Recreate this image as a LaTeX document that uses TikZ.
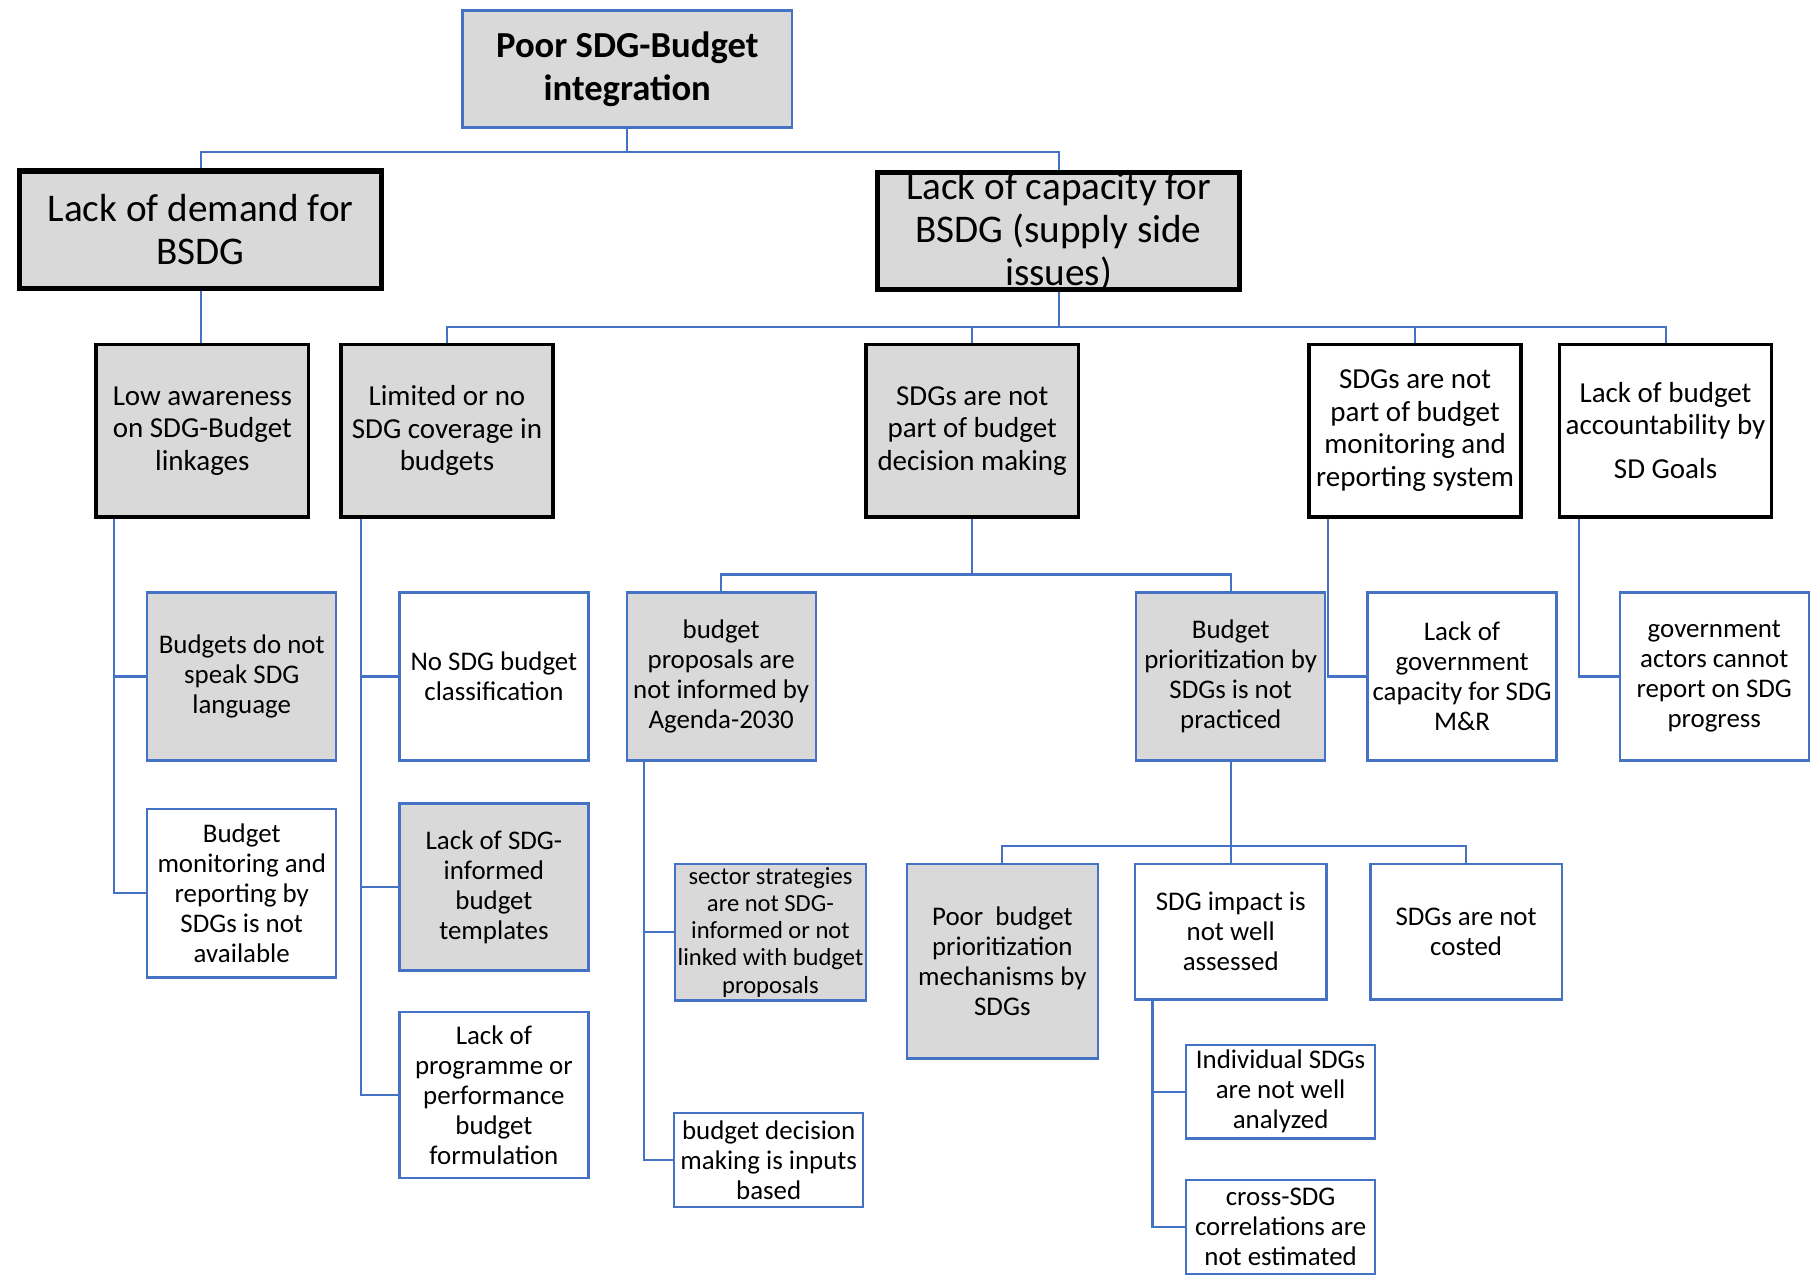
\documentclass[tikz,border=0pt]{standalone}
\usepackage{fontspec}
\setmainfont{Carlito}
\usetikzlibrary{
    positioning
}
\definecolor{sdgblue}{HTML}{4472C4}
\definecolor{boxgrey}{HTML}{D9D9D9}

\begin{document}
\begin{tikzpicture}[
    x=0.5pt, y=-0.5pt,
    root/.style={
        draw=sdgblue,
        fill=boxgrey,
        line width=1pt,
        minimum width=142pt,
        minimum height=50.5pt,
        align=center,
        inner sep=0pt,
        font=\bfseries\fontsize{15.8}{18.5}\selectfont
    },
    issue/.style={
        draw=black,
        fill=boxgrey,
        line width=2.2pt,
        minimum width=156pt,
        minimum height=50.5pt,
        align=center,
        inner sep=0pt,
        font=\fontsize{16.9}{18.5}\selectfont
    },
    cause/.style={
        draw=black,
        fill=boxgrey,
        line width=1.5pt,
        minimum width=91.5pt,
        minimum height=74.5pt,
        align=center,
        inner sep=0pt,
        font=\fontsize{12.5}{14}\selectfont
    },
    leaf/.style={
        draw=sdgblue,
        fill=white,
        line width=1pt,
        minimum width=81.5pt,
        minimum height=72.5pt,
        align=center,
        inner sep=1pt,
        font=\fontsize{11.6}{12.9}\selectfont
    },
    link/.style={draw=sdgblue, line width=0.9pt}
]

\useasboundingbox (0,0) rectangle (1568,1107);

% ================= TOP =================
\node[root] (poor) at (541,59.5) {Poor SDG-Budget\\integration};

\node[issue] (demand) at (173,198) {Lack of demand for\\BSDG};
\node[issue, label={[align=center, font=\fontsize{16.9}{18.5}\selectfont]center:Lack of capacity for\\BSDG (supply side\\issues)}] (capacity) at (913,199.5) {};

% ================= CAUSES =================
\node[cause] (awareness) at (174.5,371.5) {Low awareness\\on SDG-Budget\\linkages};
\node[cause] (coverage) at (385.5,371.5) {Limited or no\\SDG coverage in\\budgets};
\node[cause] (decision) at (838.5,371.5) {SDGs are not\\part of budget\\decision making};
\node[cause, fill=white] (monitoring) at (1220.5,371.5) {SDGs are not\\part of budget\\monitoring and\\reporting system};
\node[cause, fill=white] (accountability) at (1436.5,371.5) {Lack of budget\\accountability by\\[5pt]SD Goals};

% ---- under awareness
\node[leaf, fill=boxgrey] (language) at (208.5,583.5) {Budgets do not\\speak SDG\\language};
\node[leaf, below=20pt of language] (reporting) {Budget\\monitoring and\\reporting by\\SDGs is not\\available};

% ---- under coverage
\node[leaf] (classification) at (426,583.5) {No SDG budget\\classification};
\node[leaf, fill=boxgrey, minimum height=72pt] (templates) at (426,765) {Lack of SDG-\\informed\\budget\\templates};
\node[leaf, minimum height=71.5pt] (formulation) at (426,944.5) {Lack of\\programme or\\performance\\budget\\formulation};

% ---- under decision
\node[leaf, fill=boxgrey] (proposals) at (622,583.5) {budget\\proposals are\\not informed by\\Agenda-2030};
\node[leaf, fill=boxgrey] (prioritization) at (1061.5,583.5) {Budget\\prioritization by\\SDGs is not\\practiced};

\node[leaf, fill=boxgrey, minimum width=82.5pt, minimum height=59pt, inner sep=0pt, font=\fontsize{10.6}{11.75}\selectfont] (strategies) at (664.5,804) {sector strategies\\are not SDG-\\informed or not\\linked with budget\\proposals};
\node[leaf, minimum height=40.5pt] (inputs) at (663,1000.5) {budget decision\\making is inputs\\based};

\node[leaf, fill=boxgrey, minimum width=82.5pt, minimum height=84pt] (mechanisms) at (864.5,829) {Poor~ budget\\prioritization\\mechanisms by\\SDGs};
\node[leaf, minimum width=82.5pt, minimum height=58.5pt] (impact) at (1061.5,803.5) {SDG impact is\\not well\\assessed};
\node[leaf, minimum width=82.5pt, minimum height=58.5pt, right=18pt of impact] (costed) {SDGs are not\\costed};

\node[leaf, minimum height=40.5pt] (individual) at (1104.5,941.5) {Individual SDGs\\are not well\\analyzed};
\node[leaf, minimum height=40.5pt, below=17pt of individual] (cross) {cross-SDG\\correlations are\\not estimated};

% ---- under monitoring and accountability
\node[leaf] (mrcapacity) at (1261,583.5) {Lack of\\government\\capacity for SDG\\M\&R};
\node[leaf] (progress) at (1478.5,583.5) {government\\actors cannot\\report on SDG\\progress};

% ================= CONNECTORS =================
\draw[link] (poor.south) -- ++(0,-10pt) -| (demand.north);
\draw[link] (poor.south) -- ++(0,-10pt) -| (capacity.north);
\draw[link] (demand.south) -- (demand.south |- awareness.north);

\foreach \n in {coverage, decision, monitoring, accountability}
    \draw[link] (capacity.south) -- ++(0,-15pt) -| (\n.north);
\foreach \n in {proposals, prioritization}
    \draw[link] (decision.south) -- ++(0,-24pt) -| (\n.north);
\foreach \n in {mechanisms, impact, costed}
    \draw[link] (prioritization.south) -- ++(0,-36.5pt) -| (\n.north);

\foreach \n in {language, reporting}
    \draw[link] ([xshift=8.5pt]awareness.south west) |- (\n.west);
\foreach \n in {classification, templates, formulation}
    \draw[link] ([xshift=9.5pt]coverage.south west) |- (\n.west);
\foreach \n in {strategies, inputs}
    \draw[link] ([xshift=8pt]proposals.south west) |- (\n.west);
\foreach \n in {individual, cross}
    \draw[link] ([xshift=8pt]impact.south west) |- (\n.west);
\draw[link] ([xshift=9pt]monitoring.south west) |- (mrcapacity.west);
\draw[link] ([xshift=9pt]accountability.south west) |- (progress.west);

\end{tikzpicture}
\end{document}
